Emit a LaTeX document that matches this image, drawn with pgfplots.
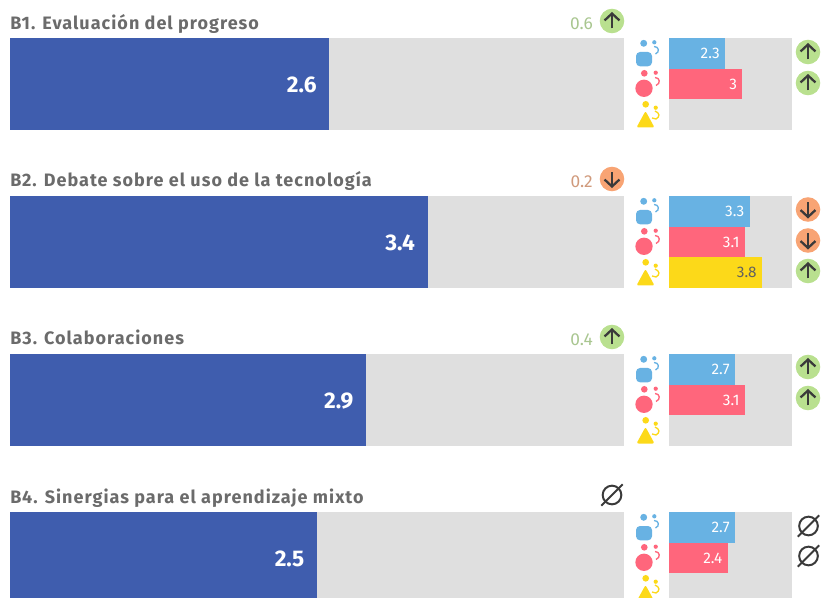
\documentclass[border=0pt]{standalone}
\usepackage{pgfplots}
\pgfplotsset{compat=1.18}
\usepackage{fontspec}
\setmainfont{Fira Sans}
\newfontfamily\ttlfont[LetterSpace=5.7]{Fira Sans}
\definecolor{bgg}{HTML}{DFDFDF}
\definecolor{mainb}{HTML}{3F5DAE}
\definecolor{lb}{HTML}{68B2E3}
\definecolor{pk}{HTML}{FF667C}
\definecolor{yl}{HTML}{FCD919}
\definecolor{grn}{HTML}{B9E08F}
\definecolor{org}{HTML}{F8A474}
\definecolor{dk}{HTML}{3A3A3A}
\definecolor{ttl}{HTML}{6B6B6B}
\definecolor{gt}{HTML}{A9C690}
\definecolor{ot}{HTML}{D09A7C}
\pgfplotsset{
 base/.style={scale only axis, axis lines=none, xmin=0, xmax=5, clip=false,
   axis background/.style={fill=bgg}, bar shift=0pt, point meta=x,
   /pgf/number format/assume math mode=true},
 mainax/.style={base, width=460.5pt, height=69pt, ymin=-0.5, ymax=0.5, anchor=north west, at={({7.5pt},{-#1*0.75pt})}},
 sideax/.style={base, width=92.25pt, height=69pt, ymin=-0.5, ymax=2.5, y dir=reverse, anchor=north west, at={({501.4pt},{-#1*0.75pt})}},
 mainbar/.style={xbar, fill=mainb, draw=none, bar width=69pt, nodes near coords,
   nodes near coords style={anchor=east, xshift=-6pt, yshift=-0.7pt, text=white, font=\fontsize{17}{17}\selectfont\bfseries}},
 sidebar/.style={xbar, fill=#1, draw=none, bar width=23pt, nodes near coords,
   nodes near coords style={anchor=east, xshift=-0.5pt, text=white, font=\fontsize{11.5}{11.5}\selectfont}},
}
% icons
\newcommand{\upic}[2]{\begin{scope}[shift={({#1*0.75pt},{-#2*0.75pt})}]
  \fill[grn] (0,0) circle (9.2pt);
  \draw[dk, line width=1.7pt] (0,-5.6pt) -- (0,5.6pt);
  \draw[dk, line width=1.7pt] (-5.6pt,0.4pt) -- (0,5.6pt) -- (5.6pt,0.4pt);
\end{scope}}
\newcommand{\dnic}[2]{\begin{scope}[shift={({#1*0.75pt},{-#2*0.75pt})}]
  \fill[org] (0,0) circle (9.2pt);
  \draw[dk, line width=1.7pt] (0,-5.6pt) -- (0,5.6pt);
  \draw[dk, line width=1.7pt] (-5.6pt,-0.4pt) -- (0,-5.6pt) -- (5.6pt,-0.4pt);
\end{scope}}
\newcommand{\nullic}[2]{\begin{scope}[shift={({#1*0.75pt},{-#2*0.75pt})}]
  \draw[dk, line width=1.5pt] (0,0) circle (7pt);
  \draw[dk, line width=1.5pt] (-8pt,-8pt) -- (8pt,8pt);
\end{scope}}
\newcommand{\ppl}[1]{% #1 top of panel, coordinates in pixels from the panel top
  \begin{scope}[x=0.75pt, y=-0.75pt, shift={(0,#1)}]
    % blue
    \fill[lb] (643.7,5.3) circle (2.6pt);
    \fill[lb] (654.3,4.3) circle (1.6pt);
    \fill[lb, rounded corners=3pt] (636,14) rectangle (652,28.3);
    \draw[lb, line width=1pt] (654,8.5) .. controls (659,8.5) and (660,14) .. (655.5,16);
    % pink
    \fill[pk] (644.3,35.3) circle (2.5pt);
    \fill[pk] (655.7,34.7) circle (1.6pt);
    \fill[pk] (644,50.3) circle (6.5pt);
    \draw[pk, line width=1pt] (655,39.5) .. controls (660,39.5) and (661,45.5) .. (656,47.5);
    % yellow
    \fill[yl] (645.7,66.3) circle (2.5pt);
    \fill[yl] (655.7,69.7) circle (1.6pt);
    \fill[yl, rounded corners=1.5pt] (636.5,89.5) -- (654.5,89.5) -- (645.5,73) -- cycle;
    \draw[yl, line width=1pt] (655,73) .. controls (660,75) and (660,79) .. (656,81) -- (652,80);
  \end{scope}
}
\newcommand{\ttitle}[2]{\node[anchor=base west, inner sep=0pt, text=ttl, font=\fontsize{13.5}{13.5}\ttlfont\bfseries] at ({7.5pt},{-#1*0.75pt}) {#2};}
\newcommand{\dlt}[3]{\node[anchor=base east, inner sep=0pt, text=#1, font=\fontsize{13}{13}\selectfont] at ({593*0.75pt},{-#2*0.75pt}) {#3};}
\begin{document}
\begin{tikzpicture}
\path[use as bounding box, clip] (0,0) rectangle ({821*0.75pt},{-598*0.75pt});
% Panel 1
\begin{axis}[mainax=38]
\addplot[mainbar] coordinates {(2.6,0)};
\end{axis}
\begin{axis}[sideax=38]
\addplot[sidebar=lb] coordinates {(2.3,0)};
\addplot[sidebar=pk] coordinates {(3,1)};
\end{axis}
% Panel 2
\begin{axis}[mainax=196]
\addplot[mainbar] coordinates {(3.4,0)};
\end{axis}
\begin{axis}[sideax=196]
\addplot[sidebar=lb] coordinates {(3.3,0)};
\addplot[sidebar=pk] coordinates {(3.1,1)};
\addplot[sidebar=yl, nodes near coords style={text=dk!80}] coordinates {(3.8,2)};
\end{axis}
% Panel 3
\begin{axis}[mainax=354]
\addplot[mainbar] coordinates {(2.9,0)};
\end{axis}
\begin{axis}[sideax=354]
\addplot[sidebar=lb] coordinates {(2.7,0)};
\addplot[sidebar=pk] coordinates {(3.1,1)};
\end{axis}
% Panel 4
\begin{axis}[mainax=512]
\addplot[mainbar] coordinates {(2.5,0)};
\end{axis}
\begin{axis}[sideax=512]
\addplot[sidebar=lb] coordinates {(2.7,0)};
\addplot[sidebar=pk] coordinates {(2.4,1)};
\end{axis}
% Titles
\ttitle{30}{B1. Evaluación del progreso}
\ttitle{187}{B2. Debate sobre el uso de la tecnología}
\ttitle{345}{B3. Colaboraciones}
\ttitle{503}{B4. Sinergias para el aprendizaje mixto}
% Deltas
\dlt{gt}{29.5}{0.6}\upic{612}{21}
\dlt{ot}{187.5}{0.2}\dnic{612}{179}
\dlt{gt}{345.5}{0.4}\upic{612}{337}
\nullic{612}{495}
% Side icons
\upic{808}{52}\upic{808}{83}
\dnic{808}{209.5}\dnic{808}{240.5}\upic{808}{271}
\upic{808}{367}\upic{808}{398}
\nullic{808.5}{526}\nullic{808.5}{556}
\ppl{38}\ppl{196}\ppl{354}\ppl{512}
\end{tikzpicture}
\end{document}
